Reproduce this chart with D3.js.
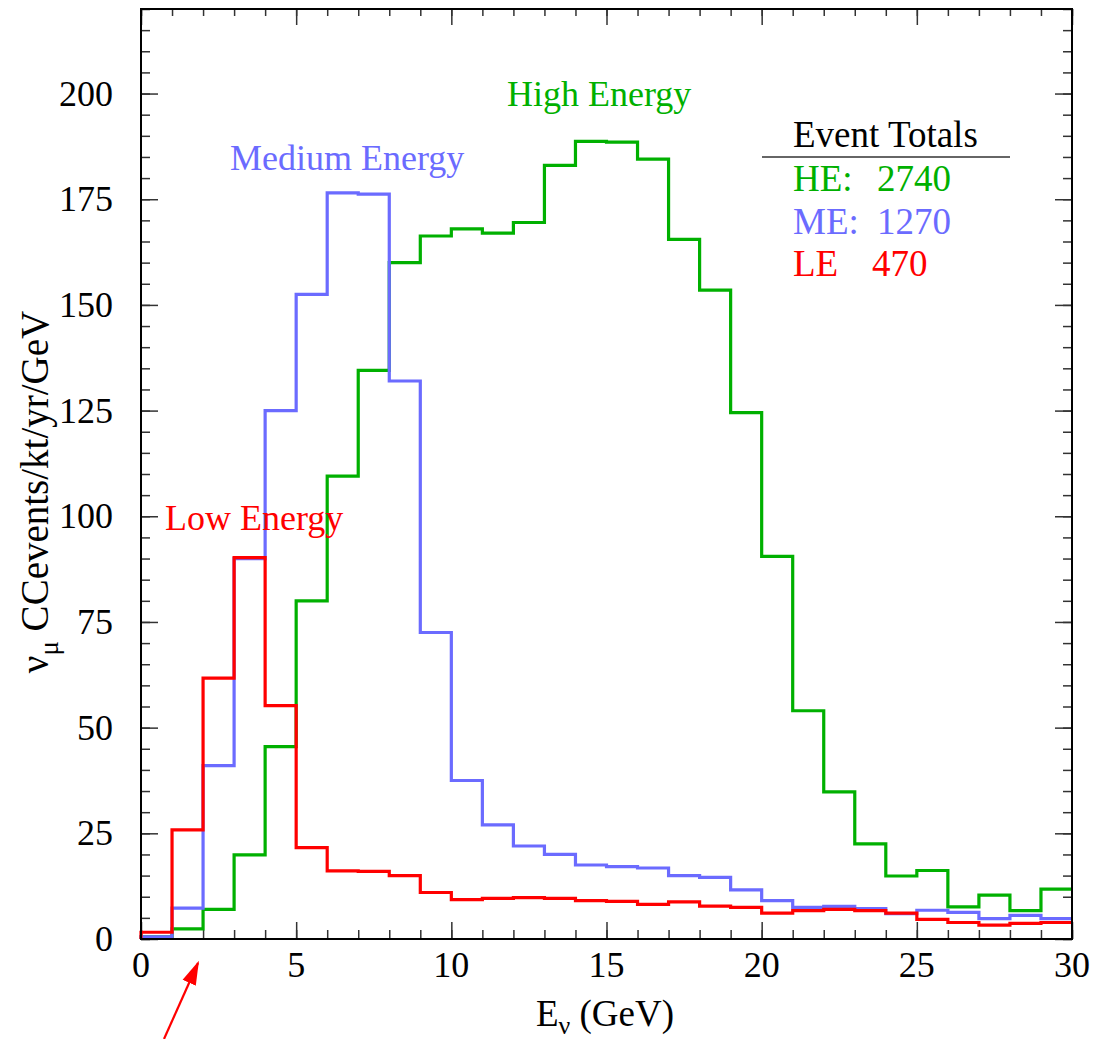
<!DOCTYPE html>
<html>
<head>
<meta charset="utf-8">
<script src="https://cdn.jsdelivr.net/npm/d3@7"></script>
<style>
  body { margin: 0; background: #fff; }
  text { font-family: "Liberation Serif", "DejaVu Serif", serif; }
</style>
</head>
<body>
<svg id="chart" width="1113" height="1039"></svg>
<script>
// bin edges 0..30 GeV, one bin per GeV
var binEdges = d3.range(0, 31);

var highEnergy = [0.5, 2.4, 7.0, 19.9, 45.5, 80, 109.5, 134.5, 160, 166.3, 168, 167, 169.5, 183, 188.7,
                  188.5, 184.5, 165.5, 153.5, 124.5, 90.5, 54, 34.8, 22.5, 14.9, 16.2, 7.6, 10.4, 6.7, 11.8];
var mediumEnergy = [0.5, 7.3, 41, 90, 125, 152.5, 176.5, 176.2, 132, 72.5, 37.5, 27, 22, 20, 17.5,
                    17.1, 16.8, 15, 14.6, 11.6, 9.1, 7.5, 7.7, 7.2, 6.0, 6.8, 6.3, 4.8, 5.6, 4.8];
var lowEnergy = [1.6, 25.8, 61.7, 90.2, 55.2, 21.6, 16.1, 16, 15, 11, 9.3, 9.6, 9.8, 9.6, 9.1,
                 8.9, 8.2, 8.8, 7.8, 7.5, 6.1, 6.7, 7.0, 6.7, 6.1, 4.65, 3.9, 3.3, 3.7, 3.9];

var totalLabels = ['HE:', 'ME:', 'LE'];
var totalValues = ['2740', '1270', '470'];

var xTicks = [0, 5, 10, 15, 20, 25, 30];
var yTicks = [0, 25, 50, 75, 100, 125, 150, 175, 200];

var green = '#00b000', blue = '#6b6bff', red = '#ff0000';

var plotLeft = 141, plotRight = 1072, plotTop = 9, plotBottom = 939;

var svg = d3.select('#chart');

var x = d3.scaleLinear().domain([0, 30]).range([plotLeft, plotRight]);
var y = d3.scaleLinear().domain([0, 220]).range([plotBottom, plotTop]);

// ticks: major + minor, on all four sides
function drawTicks(minorAxis, majorAxis, transform, majorLen, minorLen, vals, minorVals){
  svg.append('g').attr('transform', transform)
    .call(minorAxis.tickValues(minorVals).tickSize(minorLen).tickFormat(''))
    .call(function(g){ g.select('.domain').remove(); });
  svg.append('g').attr('transform', transform)
    .call(majorAxis.tickValues(vals).tickSize(majorLen).tickFormat(''))
    .call(function(g){ g.select('.domain').remove(); });
}
var xMinor = d3.range(0, 31), yMinor = d3.range(0, 221, 5);

drawTicks(d3.axisTop(x), d3.axisTop(x), 'translate(0,' + plotBottom + ')', 17, 9, xTicks, xMinor);
drawTicks(d3.axisBottom(x), d3.axisBottom(x), 'translate(0,' + plotTop + ')', 16, 7, xTicks, xMinor);
drawTicks(d3.axisRight(y), d3.axisRight(y), 'translate(' + plotLeft + ',0)', 17, 9, yTicks, yMinor);
drawTicks(d3.axisLeft(y), d3.axisLeft(y), 'translate(' + plotRight + ',0)', 17, 9, yTicks, yMinor);
svg.selectAll('.tick line').attr('stroke', '#333').attr('stroke-width', 1.5);

// tick labels
svg.append('g').selectAll('text').data(xTicks).enter().append('text')
  .attr('x', function(d){ return x(d); })
  .attr('y', 977)
  .attr('text-anchor', 'middle')
  .attr('font-size', 36)
  .text(function(d){ return d; });

svg.append('g').selectAll('text').data(yTicks).enter().append('text')
  .attr('x', 113)
  .attr('y', function(d){ return y(d) + 12; })
  .attr('text-anchor', 'end')
  .attr('font-size', 36)
  .text(function(d){ return d; });

// histogram outlines
function histPath(vals){
  var pts = [[binEdges[0], 0]];
  vals.forEach(function(v, i){
    pts.push([binEdges[i], v]);
    pts.push([binEdges[i + 1], v]);
  });
  return d3.line()
    .x(function(d){ return x(d[0]); })
    .y(function(d){ return y(d[1]); })(pts);
}

[[highEnergy, green], [mediumEnergy, blue], [lowEnergy, red]].forEach(function(s){
  svg.append('path')
    .attr('d', histPath(s[0]))
    .attr('fill', 'none')
    .attr('stroke', s[1])
    .attr('stroke-width', 3.2)
    .attr('stroke-linejoin', 'miter');
});

// frame
svg.append('rect')
  .attr('x', plotLeft).attr('y', plotTop)
  .attr('width', plotRight - plotLeft).attr('height', plotBottom - plotTop)
  .attr('fill', 'none').attr('stroke', '#000').attr('stroke-width', 2);

// curve labels
svg.append('text').attr('x', 507).attr('y', 106).attr('font-size', 36).attr('fill', green).text('High Energy');
svg.append('text').attr('x', 230).attr('y', 170).attr('font-size', 36).attr('fill', blue).text('Medium Energy');
svg.append('text').attr('x', 165).attr('y', 530).attr('font-size', 36).attr('fill', red).text('Low Energy');

// event totals box
svg.append('text').attr('x', 793).attr('y', 147).attr('font-size', 37).attr('fill', '#000').text('Event Totals');
svg.append('line').attr('x1', 762).attr('x2', 1010).attr('y1', 157).attr('y2', 157)
  .attr('stroke', '#333').attr('stroke-width', 1.5);
var totalColors = [green, blue, red];
var totalValX = [877, 877, 872];
totalLabels.forEach(function(l, i){
  var yy = 191 + i * 42.5;
  svg.append('text').attr('x', 793).attr('y', yy).attr('font-size', 37).attr('fill', totalColors[i]).text(l);
  svg.append('text').attr('x', totalValX[i]).attr('y', yy).attr('font-size', 37).attr('fill', totalColors[i]).text(totalValues[i]);
});

// axis titles
var xt = svg.append('text').attr('x', 605).attr('y', 1026).attr('text-anchor', 'middle').attr('font-size', 37);
xt.append('tspan').text('E');
xt.append('tspan').attr('font-size', 26).attr('dy', 8).text('ν');
xt.append('tspan').attr('dy', -8).text(' (GeV)');

var yt = svg.append('text').attr('transform', 'translate(48,492) rotate(-90)')
  .attr('text-anchor', 'middle').attr('font-size', 39);
yt.append('tspan').text('ν');
yt.append('tspan').attr('font-size', 27).attr('dy', 10).text('μ');
yt.append('tspan').attr('dy', -10).text(' CCevents/kt/yr/GeV');

// red arrow pointing at 2 GeV
svg.append('defs').append('marker')
  .attr('id', 'arrowhead').attr('viewBox', '0 0 10 10')
  .attr('refX', 9).attr('refY', 5)
  .attr('markerWidth', 24).attr('markerHeight', 24)
  .attr('markerUnits', 'userSpaceOnUse')
  .attr('orient', 'auto')
  .append('path').attr('d', 'M0,2 L10,5 L0,8 Z').attr('fill', red);
svg.append('line')
  .attr('x1', 164).attr('y1', 1039).attr('x2', 198).attr('y2', 963)
  .attr('stroke', red).attr('stroke-width', 2.2)
  .attr('marker-end', 'url(#arrowhead)');
</script>
</body>
</html>
